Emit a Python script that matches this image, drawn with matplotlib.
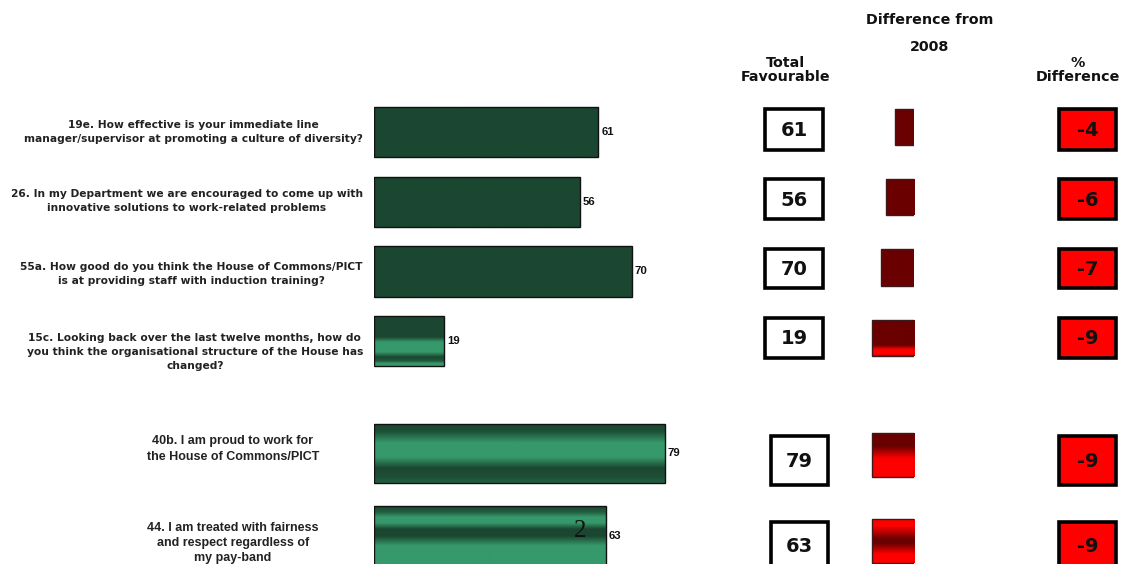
import numpy as np
import matplotlib
matplotlib.use("Agg")
import matplotlib.pyplot as plt
from matplotlib.patches import Rectangle
from matplotlib.colors import LinearSegmentedColormap
from matplotlib import font_manager as fm

# ---------------- data ----------------
questions = [
    "19e. How effective is your immediate line\nmanager/supervisor at promoting a culture of diversity?",
    "26. In my Department we are encouraged to come up with\ninnovative solutions to work-related problems",
    "55a. How good do you think the House of Commons/PICT\nis at providing staff with induction training?",
    "15c. Looking back over the last twelve months, how do\nyou think the organisational structure of the House has\nchanged?",
    "40b. I am proud to work for\nthe House of Commons/PICT",
    "44. I am treated with fairness\nand respect regardless of\nmy pay-band",
]
total_favourable = [61, 56, 70, 19, 79, 63]
diff_2008 = [-4, -6, -7, -9, -9, -9]
header_diff = ["Difference from", "2008"]
header_total = "Total\nFavourable"
header_pct = "%\nDifference"
slide_number = "2"

# ---------------- fonts ----------------
def find_font(fname, fallback_family, weight="bold"):
    for f in fm.findSystemFonts():
        if f.endswith("/" + fname):
            return fm.FontProperties(fname=f)
    return fm.FontProperties(family=fallback_family, weight=weight)

arial_b = find_font("LiberationSans-Bold.ttf", "Liberation Sans")
verd_b = find_font("DejaVuSans-Bold.ttf", "DejaVu Sans")
serif_r = find_font("LiberationSerif-Regular.ttf", "Liberation Serif", "normal")

def fp(base, size):
    p = base.copy()
    p.set_size(size)
    return p

# ---------------- layout (pixels) ----------------
W, H = 1126, 564
fig = plt.figure(figsize=(W / 100, H / 100), dpi=100)
fig.patch.set_facecolor("white")

def px_axes(x0, x1):
    ax = fig.add_axes([x0 / W, 0, (x1 - x0) / W, 1])
    ax.set_ylim(H, 0)
    ax.axis("off")
    return ax

bg = px_axes(0, W)
bg.set_xlim(0, W)

bar_top = [107, 177, 246, 316, 424, 506]
bar_bot = [157, 227, 297, 366, 483, 566]
box_top = [109, 179, 249, 318, 436, 522]
box_bot = [150, 219, 288, 358, 485, 568]
box_x = [(765, 823)] * 4 + [(771, 828)] * 2
red_x = (1059, 1116)
dbar_top = [109, 179, 249, 320, 433, 519]
dbar_bot = [145, 215, 286, 356, 477, 563]

green_cmap = LinearSegmentedColormap.from_list("g", ["#1b4731", "#36996b"])
red_cmap = LinearSegmentedColormap.from_list("r", ["#6a0000", "#ff0000"])

green_stops = [
    [(0, 0), (1, 0)],
    [(0, 0), (1, 0)],
    [(0, 0), (1, 0)],
    [(0, 0), (0.42, 0), (0.52, 1), (0.72, 1), (0.82, 0), (0.9, 0.2), (0.95, 1), (1, 1)],
    [(0, 0), (0.12, 0.1), (0.32, 1), (0.56, 1), (0.75, 0), (0.9, 0.1), (1, 0.3)],
    [(0, 0), (0.1, 0.3), (0.18, 1), (0.28, 1), (0.38, 0), (0.5, 0), (0.66, 1), (1, 1)],
]
red_stops = [
    [(0, 0), (1, 0)],
    [(0, 0), (1, 0)],
    [(0, 0), (1, 0)],
    [(0, 0), (0.7, 0), (0.82, 1), (0.95, 1), (1, 0.5)],
    [(0, 0), (0.3, 0), (0.55, 0.9), (0.62, 1), (1, 1)],
    [(0, 1), (0.15, 1), (0.45, 0), (0.55, 0), (0.8, 1), (1, 1)],
]

def profile(stops, n=120):
    t = np.linspace(0, 1, n)
    xs, vs = zip(*stops)
    return np.interp(t, xs, vs).reshape(-1, 1)

# ---------------- main bars ----------------
scale_bar = 3.68  # px per unit
bar_x0 = 374
axb = px_axes(bar_x0, bar_x0 + 100 * scale_bar)
axb.set_xlim(0, 100)
for i, v in enumerate(total_favourable):
    top, bot = bar_top[i], bar_bot[i]
    yc = (top + bot) / 2
    axb.barh(yc, v, height=bot - top, left=0, facecolor="none",
             edgecolor="#111111", linewidth=1.0, zorder=3)
    axb.imshow(profile(green_stops[i]), cmap=green_cmap, vmin=0, vmax=1,
               extent=[0, v, bot, top], aspect="auto", interpolation="bilinear",
               zorder=2)
    axb.text(v + 0.8, yc, str(v), ha="left", va="center",
             fontproperties=fp(arial_b, 8.2), color="#111111")
axb.set_xlim(0, 100)
axb.set_ylim(H, 0)

# ---------------- question labels ----------------
q_y = [132, 201, 274, 352, 449, 543]
for i, q in enumerate(questions):
    if i < 4:
        bg.text(363, q_y[i], q, ha="right", va="center", multialignment="center",
                fontproperties=fp(verd_b, 7.7), color="#222222", linespacing=1.5)
    else:
        bg.text(233, q_y[i], q, ha="center", va="center", multialignment="center",
                fontproperties=fp(arial_b, 9.0), color="#222222", linespacing=1.35)

# ---------------- headers ----------------
hp = fp(verd_b, 10.3)
hdr = dict(ha="center", va="center", fontproperties=hp, color="#111111")
bg.text(930, 20, header_diff[0], **hdr)
bg.text(930, 47, header_diff[1], **hdr)
bg.text(786, 70, header_total, linespacing=1.05, **hdr)
bg.text(1078, 70, header_pct, linespacing=1.05, **hdr)

# ---------------- total favourable boxes ----------------
np_ = fp(verd_b, 14)
for i, v in enumerate(total_favourable):
    x0, x1 = box_x[i]
    top, bot = box_top[i], box_bot[i]
    bg.add_patch(Rectangle((x0, top), x1 - x0, bot - top, facecolor="white",
                           edgecolor="black", linewidth=2.6, zorder=3))
    bg.text((x0 + x1) / 2, (top + bot) / 2 + 1, str(v), ha="center", va="center",
            fontproperties=np_, color="#111111", zorder=4)

# ---------------- % difference boxes ----------------
for i, d in enumerate(diff_2008):
    x0, x1 = red_x
    top, bot = box_top[i], box_bot[i]
    bg.add_patch(Rectangle((x0, top), x1 - x0, bot - top, facecolor="#ff0000",
                           edgecolor="black", linewidth=2.6, zorder=3))
    bg.text((x0 + x1) / 2, (top + bot) / 2 + 1, str(d), ha="center", va="center",
            fontproperties=np_, color="#111111", zorder=4)

# ---------------- difference bars ----------------
scale_d = 4.7
anchor = 914
axd = px_axes(anchor - 12 * scale_d, anchor)
axd.set_xlim(-12, 0)
for i, d in enumerate(diff_2008):
    top, bot = dbar_top[i], dbar_bot[i]
    yc = (top + bot) / 2
    axd.barh(yc, d, height=bot - top, left=0, facecolor="none",
             edgecolor="#3a1a1a", linewidth=1.0, zorder=3)
    axd.imshow(profile(red_stops[i]), cmap=red_cmap, vmin=0, vmax=1,
               extent=[d, 0, bot, top], aspect="auto", interpolation="bilinear",
               zorder=2)
axd.set_xlim(-12, 0)
axd.set_ylim(H, 0)

# stray slide number, drawn on top of everything
fig.text(580 / W, 1 - 531 / H, slide_number, ha="center", va="center",
         fontproperties=fp(serif_r, 18), color="#111111", zorder=10)

fig.savefig("out.png", dpi=100, facecolor="white")
